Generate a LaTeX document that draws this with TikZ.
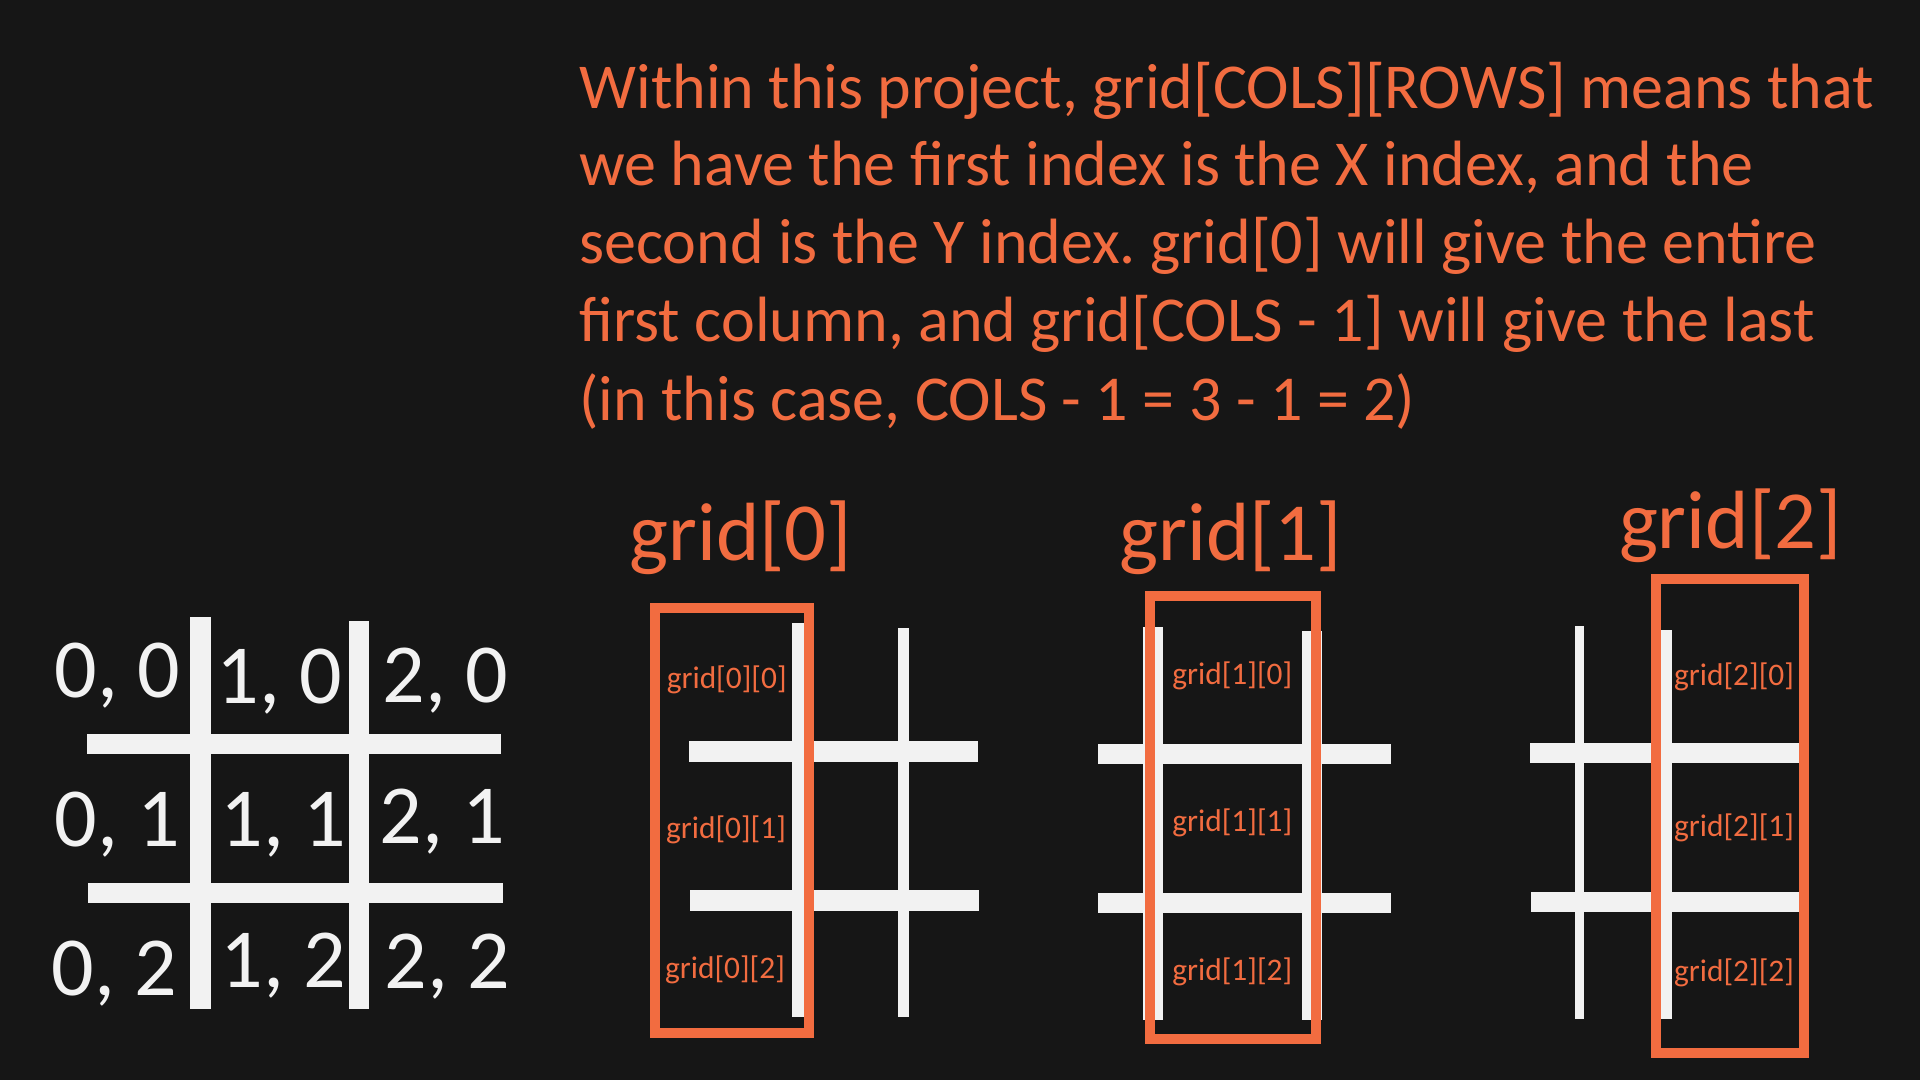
\documentclass[tikz,border=0pt]{standalone}
\usepackage{fontspec}
\setmainfont{Carlito}
\frenchspacing
\definecolor{bg}{HTML}{161616}
\definecolor{org}{HTML}{F26C40}
\definecolor{wht}{HTML}{F2F2F2}
\tikzset{
  bar/.style={fill=wht},
  selbox/.style={draw=org,line width=5pt},
  cell/.style={text=wht,font=\fontsize{42}{50}\selectfont,anchor=base,inner sep=0pt},
  title/.style={text=org,font=\fontsize{41.3}{48}\selectfont,anchor=base,inner sep=0pt},
  lbl/.style={text=org,font=\fontsize{15.7}{18}\selectfont,anchor=base,inner sep=0pt},
  para/.style={text=org,font=\fontsize{32}{39}\selectfont,anchor=base west,inner sep=0pt}
}
\begin{document}
\begin{tikzpicture}[x=0.5pt,y=-0.5pt]
\fill[bg] (0,0) rectangle (1920,1080);
\useasboundingbox (0,0) rectangle (1920,1080);

% paragraph
\node[para] (p1) at (579,108.3) {Within this project, grid[COLS][ROWS] means that};
\node[para] (p2) at (579,185.9) {we have the first index is the X index, and the};
\node[para] (p3) at (579,263.6) {second is the Y index. grid[0] will give the entire};
\node[para] (p4) at (579,341.7) {first column, and grid[COLS - 1] will give the last};
\node[para] (p5) at (579,420) {(in this case, COLS - 1 = 3 - 1 = 2)};

% left grid
\fill[bar] (190,617) rectangle (210.7,1009);
\fill[bar] (349.3,621) rectangle (369.3,1009);
\fill[bar] (86.7,734.3) rectangle (501,754.3);
\fill[bar] (87.7,883.3) rectangle (503.3,903.3);
\node[cell] (c00) at (117,697) {0, 0};
\node[cell] (c10) at (279,703) {1, 0};
\node[cell] (c20) at (445.5,702) {2, 0};
\node[cell] (c01) at (117,846.5) {0, 1};
\node[cell] (c11) at (283,846) {1, 1};
\node[cell] (c21) at (442,843) {2, 1};
\node[cell] (c02) at (114,995) {0, 2};
\node[cell] (c12) at (283,987) {1, 2};
\node[cell] (c22) at (447,988) {2, 2};

% grid[0]
\node[title] (t0) at (740.8,560) {grid[0]};
\fill[bar] (792,623) rectangle (804,1017);
\fill[bar] (898,628) rectangle (909,1017);
\fill[bar] (689,741) rectangle (978.3,761.7);
\fill[bar] (690,890) rectangle (979.3,910.7);
\draw[selbox] (655,608.3) rectangle (809,1032.7);
\node[lbl] (g00) at (726.7,688) {grid[0][0]};
\node[lbl] (g01) at (726,838) {grid[0][1]};
\node[lbl] (g02) at (725,978) {grid[0][2]};

% grid[1]
\node[title] (t1) at (1230.8,560) {grid[1]};
\fill[bar] (1143.3,626.7) rectangle (1163.3,1020);
\fill[bar] (1302.3,631) rectangle (1322.3,1020);
\fill[bar] (1097.7,744.3) rectangle (1391,764.3);
\fill[bar] (1097.7,893.3) rectangle (1391,913.3);
\draw[selbox] (1150,596) rectangle (1316,1039.3);
\node[lbl] (g10) at (1232.3,684) {grid[1][0]};
\node[lbl] (g11) at (1232.3,831.7) {grid[1][1]};
\node[lbl] (g12) at (1232.3,980) {grid[1][2]};

% grid[2]
\node[title] (t2) at (1730.3,548.3) {grid[2]};
\fill[bar] (1575,626) rectangle (1584.3,1019);
\fill[bar] (1655,630) rectangle (1672.3,1019);
\fill[bar] (1530,743.3) rectangle (1800,763.3);
\fill[bar] (1531,892.3) rectangle (1800,912.3);
\draw[selbox] (1656,579) rectangle (1803.7,1052.7);
\node[lbl] (g20) at (1734,685) {grid[2][0]};
\node[lbl] (g21) at (1734,836.7) {grid[2][1]};
\node[lbl] (g22) at (1734,981.7) {grid[2][2]};
\end{tikzpicture}
\end{document}
